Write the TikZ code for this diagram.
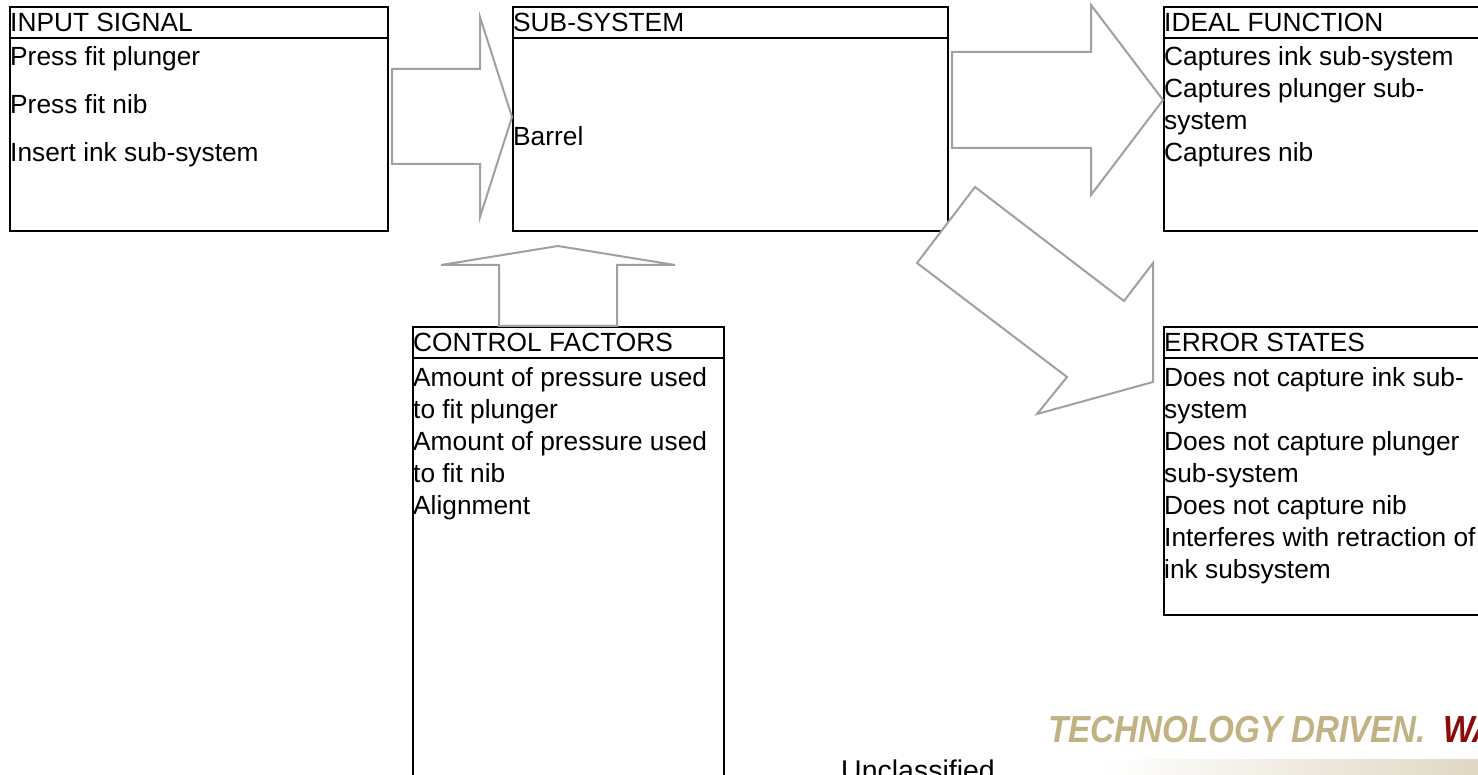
\documentclass[tikz,border=0pt]{standalone}
\usepackage{fontspec}
\setmainfont{Liberation Sans}
\definecolor{PDGray}{HTML}{A0A0A0}
\definecolor{PDGold}{HTML}{C0B283}
\definecolor{PDRed}{HTML}{8C0A0A}
\definecolor{PDSand}{HTML}{E0D8C4}
\usetikzlibrary{positioning}
\tikzset{
  box/.style={draw=black, line width=2.4pt, anchor=north west, inner sep=0pt, minimum height=224pt},
  head/.style={anchor=base west, inner sep=0pt, font=\fontsize{26.3}{32}\selectfont},
  item/.style={anchor=base west, inner sep=0pt, align=left, font=\fontsize{26.3}{32}\selectfont},
  fatarrow/.style={draw=PDGray, line width=2pt, fill=white, line join=miter},
  logo/.style={anchor=base west, inner sep=0pt, font=\fontsize{37.7}{40}\selectfont\bfseries\itshape}
}

\begin{document}
\begin{tikzpicture}[x=1pt, y=-1pt]
    \useasboundingbox (0,0) rectangle (1478,775);
    \clip (0,0) rectangle (1478,775);

    % boxes
    \node[box, minimum width=378pt] (input) at (9,6) {};
    \node[box, minimum width=435pt] (sub) at (512,6) {};
    \node[box, minimum width=330pt] (ideal) at (1163,6) {};
    \node[box, minimum width=311pt, minimum height=480pt] (control) at (412,326) {};
    \node[box, minimum width=330pt, minimum height=288pt] (error) at (1163,326) {};

    \foreach \b in {input,sub,ideal,control,error}
      \draw[line width=2.4pt] ([yshift=-32pt]\b.north west) -- ([yshift=-32pt]\b.north east);

    % titles
    \node[head] (inputhead) at (10,32) {INPUT SIGNAL};
    \node[head] (subhead) at (513,32) {SUB-SYSTEM};
    \node[head] (idealhead) at (1164,32) {IDEAL FUNCTION};
    \node[head] (controlhead) at (413,352) {CONTROL FACTORS};
    \node[head] (errorhead) at (1164,352) {ERROR STATES};

    % contents (placed at the baseline of the last line)
    \node[item] (inputtext) at (10,162) {Press fit plunger\\[16pt]Press fit nib\\[16pt]Insert ink sub-system};
    \node[item] (subtext) at (513,146) {Barrel};
    \node[item] (idealtext) at (1164,162) {Captures ink sub-system\\Captures plunger sub-\\system\\Captures nib};
    \node[item] (controltext) at (413,514) {Amount of pressure used\\to fit plunger\\Amount of pressure used\\to fit nib\\Alignment};
    \node[item] (errortext) at (1164,578) {Does not capture ink sub-\\system\\Does not capture plunger\\sub-system\\Does not capture nib\\Interferes with retraction of\\ink subsystem};

    % block arrows
    \draw[fatarrow] (392,69) -- (480,69) -- (480,17) -- (sub.west |- 0,117) -- (480,217) -- (480,164) -- (392,164) -- cycle;
    \draw[fatarrow] (952,52) -- (1091,52) -- (1091,5) -- (ideal.west |- 0,100) -- (1091,195) -- (1091,148) -- (952,148) -- cycle;
    \draw[fatarrow] (499,326) -- (499,265) -- (441,265) -- (558,246) -- (675,265) -- (617,265) -- (617,326) -- cycle;
    \draw[fatarrow] (975,187) -- (917,263) -- (1067,377) -- (1037,414) -- (1153,382) -- (1153,263) -- (1124,301) -- cycle;

    % footer
    \node[anchor=base, inner sep=0pt, font=\fontsize{28.5}{32}\selectfont] (unclass) at (918,780) {Unclassified};
    \fill[left color=white, right color=PDSand] (1103,759) rectangle (1478,775);
    \node[logo, text=PDGold] (slogan) at (1048,742) {\scalebox{0.88}[1]{TECHNOLOGY DRIVEN.}};
    \node[logo, text=PDRed] (slogantail) at (1443,742) {\scalebox{0.88}[1]{WA}};
\end{tikzpicture}
\end{document}
